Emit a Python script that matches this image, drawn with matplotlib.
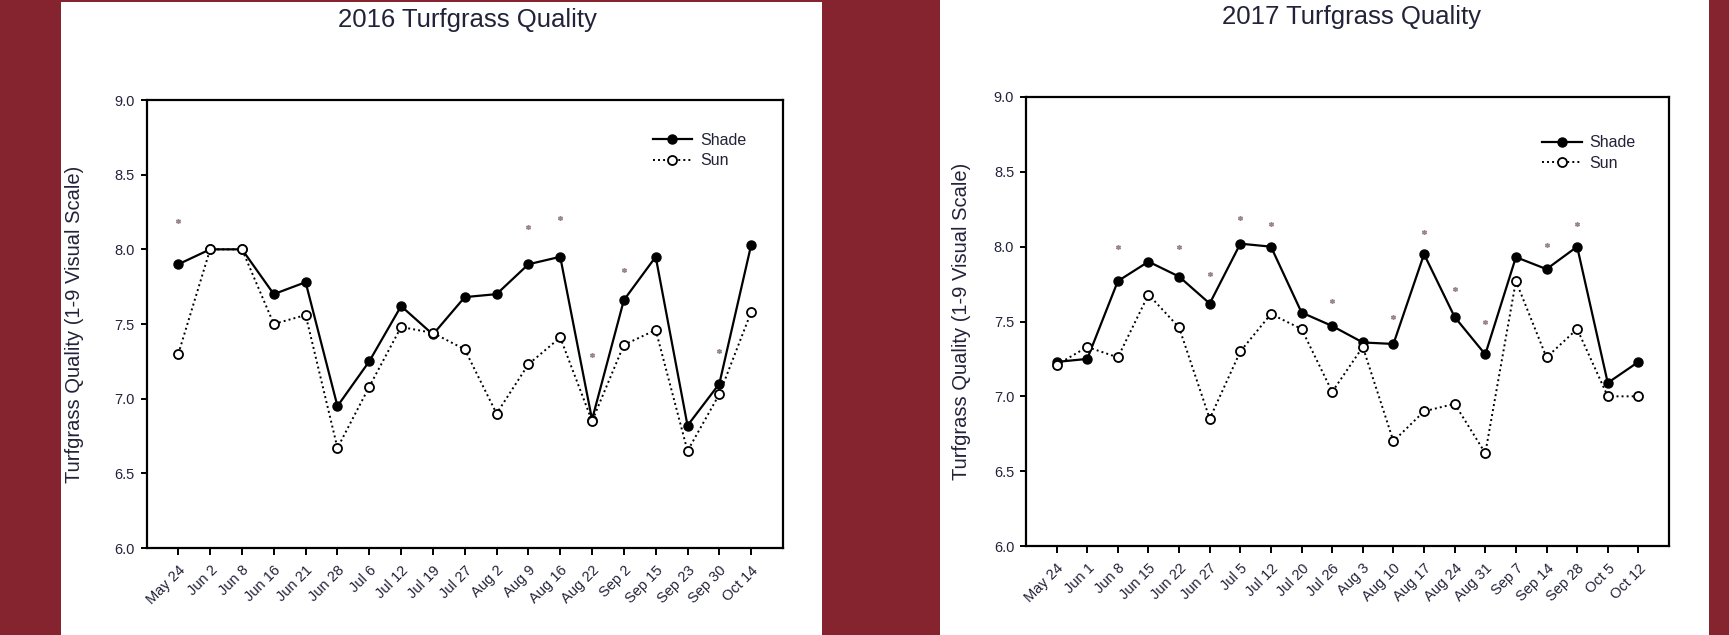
import matplotlib
matplotlib.use("Agg")
import matplotlib.pyplot as plt
from matplotlib.patches import Rectangle

plt.rcParams["font.family"] = ["Liberation Sans", "DejaVu Sans"]

# ------------------------------------------------------------
# Data
# ------------------------------------------------------------
dates_2016 = ["May 24", "Jun 2", "Jun 8", "Jun 16", "Jun 21", "Jun 28", "Jul 6",
              "Jul 12", "Jul 19", "Jul 27", "Aug 2", "Aug 9", "Aug 16", "Aug 22",
              "Sep 2", "Sep 15", "Sep 23", "Sep 30", "Oct 14"]
shade_2016 = [7.90, 8.00, 8.00, 7.70, 7.78, 6.95, 7.25, 7.62, 7.43, 7.68, 7.70,
              7.90, 7.95, 6.86, 7.66, 7.95, 6.82, 7.10, 8.03]
sun_2016 = [7.30, 8.00, 8.00, 7.50, 7.56, 6.67, 7.08, 7.48, 7.44, 7.33, 6.90,
            7.23, 7.41, 6.85, 7.36, 7.46, 6.65, 7.03, 7.58]
sig_dates_2016 = ["May 24", "Aug 9", "Aug 16", "Aug 22", "Sep 2", "Sep 30"]
sig_y_2016 = [8.19, 8.15, 8.21, 7.29, 7.86, 7.32]

dates_2017 = ["May 24", "Jun 1", "Jun 8", "Jun 15", "Jun 22", "Jun 27", "Jul 5",
              "Jul 12", "Jul 20", "Jul 26", "Aug 3", "Aug 10", "Aug 17", "Aug 24",
              "Aug 31", "Sep 7", "Sep 14", "Sep 28", "Oct 5", "Oct 12"]
shade_2017 = [7.23, 7.25, 7.77, 7.90, 7.80, 7.62, 8.02, 8.00, 7.56, 7.47, 7.36,
              7.35, 7.95, 7.53, 7.28, 7.93, 7.85, 8.00, 7.09, 7.23]
sun_2017 = [7.21, 7.33, 7.26, 7.68, 7.46, 6.85, 7.30, 7.55, 7.45, 7.03, 7.33,
            6.70, 6.90, 6.95, 6.62, 7.77, 7.26, 7.45, 7.00, 7.00]
sig_dates_2017 = ["Jun 8", "Jun 22", "Jun 27", "Jul 5", "Jul 12", "Jul 26",
                  "Aug 10", "Aug 17", "Aug 24", "Aug 31", "Sep 14", "Sep 28"]
sig_y_2017 = [8.00, 8.00, 7.82, 8.19, 8.15, 7.64, 7.53, 8.10, 7.72, 7.50, 8.01, 8.15]

y_ticks = [6.0, 6.5, 7.0, 7.5, 8.0, 8.5, 9.0]

# ------------------------------------------------------------
# Style
# ------------------------------------------------------------
BG = "#85232F"
INK = "#22223a"
STAR = "#9a8690"
W, H = 1729, 635

fig = plt.figure(figsize=(W / 100, H / 100), dpi=100, facecolor=BG)

# white slide panels, behind the axes
for x0, x1, y0 in [(61, 822, 2), (940, 1709, 0)]:
    fig.patches.append(Rectangle((x0 / W, 0), (x1 - x0) / W, 1 - y0 / H,
                                 transform=fig.transFigure, facecolor="white",
                                 edgecolor="none", zorder=-10))


def panel(rect, dates, shade, sun, sig_dates, sig_y, title, title_xy,
          ylabel_x, leg_anchor):
    ax = fig.add_axes(rect)
    ax.set_zorder(1)
    ax.patch.set_alpha(0)
    x = list(range(len(dates)))
    ax.plot(x, shade, color="black", lw=1.6, marker="o", ms=6.5,
            mfc="black", mec="black", label="Shade", zorder=3)
    ax.plot(x, sun, color="black", lw=1.4, ls=(0, (1, 1.6)), marker="o",
            ms=6.5, mfc="white", mec="black", mew=1.3, label="Sun", zorder=4)
    sx = [dates.index(d) for d in sig_dates]
    ax.plot(sx, sig_y, ls="none", marker=(6, 2, 0), ms=3.5, mew=1.0,
            color=STAR, zorder=2)

    ax.set_xlim(-1, len(dates))
    ax.set_ylim(6.0, 9.0)
    ax.set_yticks(y_ticks)
    ax.set_yticklabels([f"{v:.1f}" for v in y_ticks])
    ax.set_xticks(x)
    ax.set_xticklabels(dates, rotation=45, ha="right", rotation_mode="anchor")
    ax.tick_params(axis="y", direction="out", length=4.5, width=1.4, pad=4,
                   labelsize=10.5, colors="black", labelcolor=INK)
    ax.tick_params(axis="x", direction="out", length=5, width=1.4, pad=6,
                   labelsize=10.5, colors="black", labelcolor=INK)
    for sp in ax.spines.values():
        sp.set_linewidth(1.6)
    ax.set_ylabel("Turfgrass Quality (1-9 Visual Scale)", fontsize=14.5,
                  color=INK)
    ax.yaxis.set_label_coords(ylabel_x, 0.5)

    ax.legend(loc="upper left", bbox_to_anchor=leg_anchor, frameon=False,
              fontsize=11.5, handlelength=2.5, handletextpad=0.5,
              labelspacing=0.35, borderpad=0, borderaxespad=0,
              labelcolor=INK)
    fig.text(title_xy[0] / W, 1 - title_xy[1] / H, title, ha="center",
             va="center", fontsize=18.5, color=INK)
    return ax


panel([146.5 / W, 1 - 548 / H, 636.5 / W, 448 / H], dates_2016, shade_2016,
      sun_2016, sig_dates_2016, sig_y_2016, "2016 Turfgrass Quality",
      (467, 20), -0.098, (0.795, 0.927))
panel([1026 / W, 1 - 546 / H, 643 / W, 449 / H], dates_2017, shade_2017,
      sun_2017, sig_dates_2017, sig_y_2017, "2017 Turfgrass Quality",
      (1351, 17), -0.086, (0.802, 0.915))

fig.savefig("out.png", dpi=100, facecolor=BG)
